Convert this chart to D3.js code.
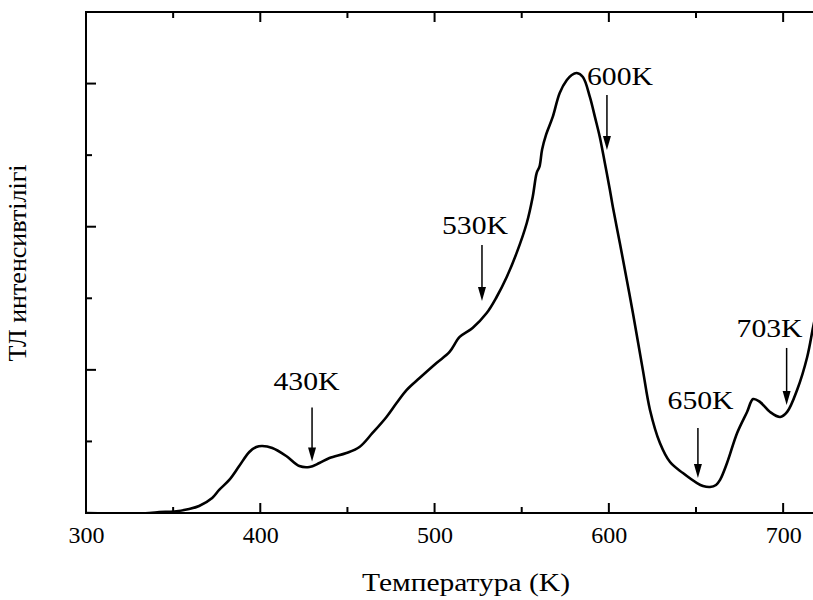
<!DOCTYPE html>
<html><head><meta charset="utf-8">
<script src="https://cdn.jsdelivr.net/npm/d3@7"></script>
<style>body{margin:0;background:#fff}svg{display:block}</style>
</head><body>
<svg id="c" width="813" height="600"></svg>
<script>
// Temperature (K)
const temps = [300,336.2,342,350.6,359.2,364.9,372.4,376.4,382.2,387.9,393.7,397.7,401.1,406.9,414.9,422.4,428.2,433.9,439.7,449.4,456.9,464.4,472.4,478.2,483.9,491.4,501.1,508.6,514.4,521.8,529.9,535.6,541.4,547.1,552.9,556.3,558.6,560.2,561.7,563.9,567.8,571.8,575.9,578.7,581.6,585.1,589.1,592.0,594.8,597.7,600.6,602.3,606.3,610.3,613.8,619.5,623.6,629.3,635.1,642.5,650.6,654.0,658.0,661.5,663.8,667.8,673.6,679.3,682.8,686.8,692.5,698.3,702.3,708.0,713.8,717.2,719.5];
// TL intensity (arb. units)
const intensity = [0,0,0.007,0.01,0.028,0.049,0.105,0.161,0.231,0.328,0.426,0.461,0.468,0.454,0.398,0.328,0.321,0.349,0.384,0.419,0.461,0.559,0.671,0.768,0.859,0.943,1.048,1.125,1.230,1.293,1.397,1.509,1.649,1.817,2.026,2.208,2.376,2.42,2.54,2.64,2.767,2.935,3.025,3.060,3.074,3.046,2.907,2.767,2.627,2.445,2.257,2.138,1.886,1.628,1.397,1.0,0.720,0.489,0.356,0.279,0.209,0.189,0.182,0.196,0.231,0.349,0.559,0.706,0.796,0.775,0.706,0.671,0.706,0.859,1.090,1.299,1.43];
// tick values
const xMajor = [300,400,500,600,700];
const xMinor = [350,450,550,650];
const yMajor = [1,2,3];
const yMinor = [0.5,1.5,2.5];
// annotations
const annLabels = ["430K","530K","600K","650K","703K"];
const annTemps = [429.7,527.2,598.9,651.1,702.0];
const annTop = [0.737,1.872,2.92,0.594,1.153];
const annTip = [0.36,1.481,2.536,0.244,0.754];
const annLabelY = [0.859,1.949,2.99,0.727,1.23];
const annLabelTemp = [426.5,523.2,606.4,652.6,692.2];

const svg = d3.select("#c");
const L=86, T=12, R=818, B=513;
const x = d3.scaleLinear().domain([300,720]).range([L,R]);
const y = d3.scaleLinear().domain([0,3.5]).range([B,T]);
const font = "Liberation Serif, Times New Roman, serif";

// frame
svg.append("rect").attr("x",L).attr("y",T).attr("width",R-L).attr("height",B-T)
  .attr("fill","none").attr("stroke","#000").attr("stroke-width",2);

// bottom axis labels
const gb = svg.append("g").attr("transform",`translate(0,${B})`);
gb.call(d3.axisBottom(x).tickValues(xMajor).tickSize(0).tickPadding(13).tickFormat(d3.format("d")));
gb.attr("font-family",null).attr("font-size",null);
gb.select(".domain").remove();
gb.selectAll("text").style("font-family",font).style("font-size","24px").attr("fill","#000").attr("dy","0.71em");

// inward tick marks
const tickG = svg.append("g").attr("stroke","#000").attr("stroke-width",2);
xMajor.forEach(v=>{
  tickG.append("line").attr("x1",x(v)).attr("x2",x(v)).attr("y1",B).attr("y2",B-10);
  tickG.append("line").attr("x1",x(v)).attr("x2",x(v)).attr("y1",T).attr("y2",T+10);
});
xMinor.forEach(v=>{
  tickG.append("line").attr("x1",x(v)).attr("x2",x(v)).attr("y1",B).attr("y2",B-6);
  tickG.append("line").attr("x1",x(v)).attr("x2",x(v)).attr("y1",T).attr("y2",T+6);
});
yMajor.forEach(v=>{
  tickG.append("line").attr("x1",L).attr("x2",L+10).attr("y1",y(v)).attr("y2",y(v));
});
yMinor.forEach(v=>{
  tickG.append("line").attr("x1",L).attr("x2",L+6).attr("y1",y(v)).attr("y2",y(v));
});

// curve
svg.append("defs").append("clipPath").attr("id","clip").append("rect")
  .attr("x",L).attr("y",T).attr("width",R-L).attr("height",B-T);
const ln = d3.line().x((d,i)=>x(temps[i])).y(d=>y(d)).curve(d3.curveCatmullRom.alpha(0.5));
svg.append("path").datum(intensity).attr("d",ln).attr("fill","none")
  .attr("stroke","#000").attr("stroke-width",2.6).attr("stroke-linejoin","round")
  .attr("clip-path","url(#clip)");

// annotations
const ag = svg.append("g");
annLabels.forEach((lab,i)=>{
  const ax = x(annTemps[i]), y1 = y(annTop[i]), y2 = y(annTip[i]);
  ag.append("line").attr("x1",ax).attr("x2",ax).attr("y1",y1).attr("y2",y2-10)
    .attr("stroke","#000").attr("stroke-width",1.5);
  ag.append("path").attr("d",`M${ax-4},${y2-14}L${ax+4},${y2-14}L${ax},${y2}Z`).attr("fill","#000");
  ag.append("text").attr("x",x(annLabelTemp[i])).attr("y",y(annLabelY[i]))
    .attr("text-anchor","middle").style("font-family",font).style("font-size","26px")
    .attr("textLength",66).attr("lengthAdjust","spacingAndGlyphs")
    .attr("fill","#000").text(lab);
});

// axis titles
svg.append("text").attr("x",466).attr("y",591).attr("text-anchor","middle")
  .style("font-family",font).style("font-size","25px")
  .attr("textLength",208).attr("lengthAdjust","spacingAndGlyphs")
  .attr("fill","#000").text("Температура (K)");
svg.append("text").attr("transform","translate(26,263) rotate(-90)").attr("text-anchor","middle")
  .style("font-family",font).style("font-size","26px").attr("fill","#000").text("ТЛ интенсивтілігі");
</script>
</body></html>
